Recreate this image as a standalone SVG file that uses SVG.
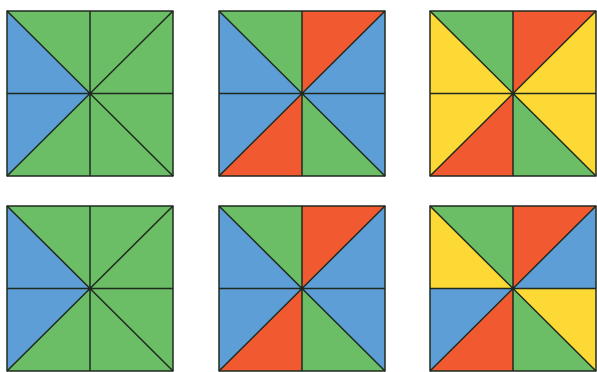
<svg xmlns="http://www.w3.org/2000/svg" xmlns:xlink="http://www.w3.org/1999/xlink" width="597" height="372" viewBox="0 0 597 372">
<style>
.g{fill:#6bbd66}.b{fill:#5e9ed7}.r{fill:#f15a31}.y{fill:#fdd935}
.ln{fill:none;stroke:#1f2a1f;stroke-width:1.5;stroke-linejoin:round}
</style>
<defs>
<polygon id="TL" points="0,0 83,0 83,82.5"/>
<polygon id="TR" points="83,0 166,0 83,82.5"/>
<polygon id="RT" points="166,0 166,82.5 83,82.5"/>
<polygon id="RB" points="166,82.5 166,165 83,82.5"/>
<polygon id="BR" points="166,165 83,165 83,82.5"/>
<polygon id="BL" points="83,165 0,165 83,82.5"/>
<polygon id="LB" points="0,165 0,82.5 83,82.5"/>
<polygon id="LT" points="0,82.5 0,0 83,82.5"/>
<g id="lines" class="ln">
<rect x="0" y="0" width="166" height="165"/>
<path d="M0,0L166,165M166,0L0,165M83,0V165M0,82.5H166"/>
</g>
</defs>
<g id="sq1" transform="translate(7,11)">
<use href="#TL" class="g"/><use href="#TR" class="g"/><use href="#RT" class="g"/><use href="#RB" class="g"/>
<use href="#BR" class="g"/><use href="#BL" class="g"/><use href="#LB" class="b"/><use href="#LT" class="b"/>
<use href="#lines"/>
</g>
<g id="sq2" transform="translate(219,11)">
<use href="#TL" class="g"/><use href="#TR" class="r"/><use href="#RT" class="b"/><use href="#RB" class="b"/>
<use href="#BR" class="g"/><use href="#BL" class="r"/><use href="#LB" class="b"/><use href="#LT" class="b"/>
<use href="#lines"/>
</g>
<g id="sq3" transform="translate(430,11)">
<use href="#TL" class="g"/><use href="#TR" class="r"/><use href="#RT" class="y"/><use href="#RB" class="y"/>
<use href="#BR" class="g"/><use href="#BL" class="r"/><use href="#LB" class="y"/><use href="#LT" class="y"/>
<use href="#lines"/>
</g>
<g id="sq4" transform="translate(7,206)">
<use href="#TL" class="g"/><use href="#TR" class="g"/><use href="#RT" class="g"/><use href="#RB" class="g"/>
<use href="#BR" class="g"/><use href="#BL" class="g"/><use href="#LB" class="b"/><use href="#LT" class="b"/>
<use href="#lines"/>
</g>
<g id="sq5" transform="translate(219,206)">
<use href="#TL" class="g"/><use href="#TR" class="r"/><use href="#RT" class="b"/><use href="#RB" class="b"/>
<use href="#BR" class="g"/><use href="#BL" class="r"/><use href="#LB" class="b"/><use href="#LT" class="b"/>
<use href="#lines"/>
</g>
<g id="sq6" transform="translate(430,206)">
<use href="#TL" class="g"/><use href="#TR" class="r"/><use href="#RT" class="b"/><use href="#RB" class="y"/>
<use href="#BR" class="g"/><use href="#BL" class="r"/><use href="#LB" class="b"/><use href="#LT" class="y"/>
<use href="#lines"/>
</g>
</svg>
